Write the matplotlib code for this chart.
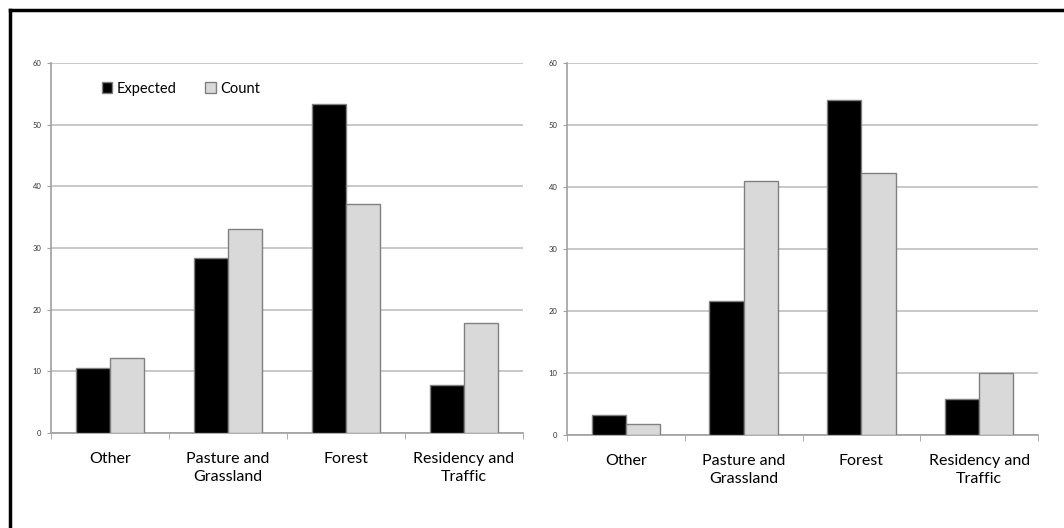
import numpy as np
import matplotlib.pyplot as plt
from matplotlib.lines import Line2D

categories = ['Other', 'Pasture and\nGrassland', 'Forest', 'Residency and\nTraffic']
left_expected = [10.5, 28.4, 53.3, 7.8]
left_count = [12.2, 33.1, 37.1, 17.8]
right_expected = [3.2, 21.6, 54.0, 5.8]
right_count = [1.8, 41.0, 42.3, 10.0]
yticks = [0, 10, 20, 30, 40, 50, 60]

plt.rcParams['font.family'] = ['Lato', 'DejaVu Sans']

fig = plt.figure(figsize=(10.64, 5.28), dpi=100)

def draw(ax, expected, count, legend=False):
    x = np.arange(len(categories))
    w = 0.29
    ax.bar(x - w / 2, expected, w, color='black', edgecolor='#808080', linewidth=1, label='Expected', zorder=3)
    ax.bar(x + w / 2, count, w, color='#d9d9d9', edgecolor='#808080', linewidth=1, label='Count', zorder=3)
    ax.set_xlim(-0.5, 3.5)
    ax.set_ylim(0, 60)
    ax.set_yticks(yticks)
    ax.set_yticklabels([str(t) for t in yticks], fontsize=5.5, color='#333333')
    ax.yaxis.grid(True, color='#bfbfbf', linewidth=1.2)
    ax.set_axisbelow(True)
    ax.set_xticks(x)
    ax.set_xticklabels(categories, fontsize=11.5, linespacing=1.35)
    ax.tick_params(axis='x', length=0, pad=14)
    ax.set_xticks(np.arange(-0.5, 3.6, 1), minor=True)
    ax.tick_params(axis='x', which='minor', length=4, color='#a0a0a0')
    ax.tick_params(axis='y', length=3, color='#a0a0a0', pad=4)
    for s in ['top', 'right']:
        ax.spines[s].set_visible(False)
    for s in ['left', 'bottom']:
        ax.spines[s].set_color('#a0a0a0')
        ax.spines[s].set_linewidth(1.2)
    if legend:
        ax.legend(loc='upper left', bbox_to_anchor=(0.08, 0.985), ncol=2, frameon=False,
                  fontsize=10.5, handlelength=0.7, handleheight=0.7, handletextpad=0.3,
                  columnspacing=2.0)

ax1 = fig.add_axes([0.0479, 0.1799, 0.4436, 0.7008])
draw(ax1, left_expected, left_count, legend=True)
ax2 = fig.add_axes([0.5329, 0.1761, 0.4427, 0.7045])
draw(ax2, right_expected, right_count)

# frame visible at the top and left of the picture
fig.add_artist(Line2D([10 / 1064, 10 / 1064], [0, 1 - 10 / 528], color='black', linewidth=2.5))
fig.add_artist(Line2D([10 / 1064, 1], [1 - 10 / 528, 1 - 10 / 528], color='black', linewidth=2.5))

fig.savefig('out.png', dpi=100)
